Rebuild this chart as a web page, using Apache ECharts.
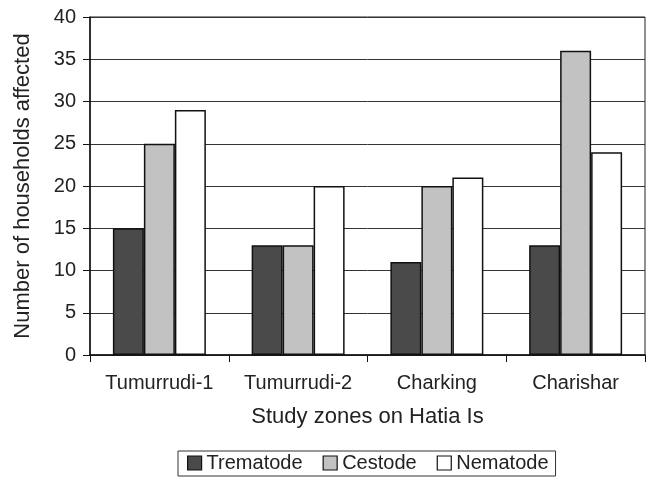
<!DOCTYPE html>
<html>
<head>
<meta charset="utf-8">
<script src="https://cdn.jsdelivr.net/npm/echarts@6/dist/echarts.min.js"></script>
<style>html,body{margin:0;padding:0;background:#fff}#c{width:648px;height:482px}</style>
</head>
<body>
<div id="c"></div>
<script>
const categories = ['Tumurrudi-1', 'Tumurrudi-2', 'Charking', 'Charishar'];
const trematode = [15, 13, 11, 13];
const cestode = [25, 13, 20, 36];
const nematode = [29, 20, 21, 24];
const seriesNames = ['Trematode', 'Cestode', 'Nematode'];
const yTicks = { min: 0, max: 40, interval: 5 };

const font = 'Liberation Sans, Arial, sans-serif';
const chart = echarts.init(document.getElementById('c'), null, { renderer: 'canvas' });
const colors = ['#4a4a4a', '#c2c2c2', '#ffffff'];
const data = [trematode, cestode, nematode];

chart.setOption({
  animation: false,
  backgroundColor: '#fff',
  grid: { left: 90, top: 17, right: 3, bottom: 127, show: true, borderColor: '#222', borderWidth: 1, backgroundColor: 'transparent' },
  legend: {
    left: 178, top: 451,
    itemWidth: 14, itemHeight: 14, itemGap: 20,
    padding: [2, 7, 3, 9],
    borderColor: '#333', borderWidth: 1,
    textStyle: { fontFamily: font, fontSize: 20, color: '#222' },
    data: seriesNames.map(n => ({ name: n, icon: 'rect', itemStyle: { borderColor: '#111', borderWidth: 1.2 } }))
  },
  xAxis: {
    type: 'category', data: categories,
    name: 'Study zones on Hatia Is', nameLocation: 'middle', nameGap: 51,
    nameTextStyle: { fontFamily: font, fontSize: 22, color: '#222' },
    axisLine: { lineStyle: { color: '#111', width: 1.5 } },
    axisTick: { show: true, length: 7, interval: 0, lineStyle: { color: '#111' } },
    axisLabel: { fontFamily: font, fontSize: 20, color: '#222', margin: 18, interval: 0 }
  },
  yAxis: {
    type: 'value', min: yTicks.min, max: yTicks.max, interval: yTicks.interval,
    name: 'Number of households affected', nameLocation: 'middle', nameGap: 56,
    nameTextStyle: { fontFamily: font, fontSize: 22, color: '#222' },
    axisLine: { show: true, lineStyle: { color: '#111', width: 1.5 } },
    axisTick: { show: true, length: 7, lineStyle: { color: '#111' } },
    axisLabel: { fontFamily: font, fontSize: 20, color: '#222', margin: 14 },
    splitLine: { show: true, lineStyle: { color: '#333', width: 1 } }
  },
  series: seriesNames.map((n, i) => ({
    name: n, type: 'bar', data: data[i],
    barGap: '0%', barCategoryGap: '33%',
    itemStyle: { color: colors[i], borderColor: '#111', borderWidth: 1.5 }
  }))
});
</script>
</body>
</html>
